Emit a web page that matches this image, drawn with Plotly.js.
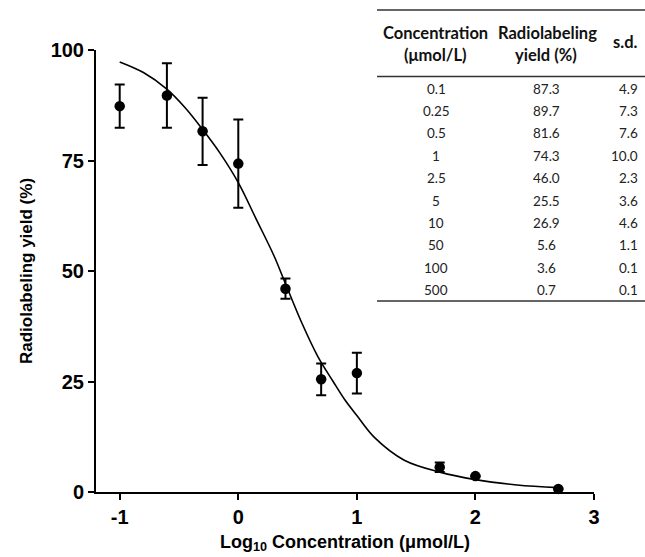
<!DOCTYPE html>
<html><head><meta charset="utf-8">
<script src="https://cdn.plot.ly/plotly-3.0.1.min.js"></script>
<style>html,body{margin:0;padding:0;background:#fff;}#chart{width:645px;height:557px;}</style>
</head><body><div id="chart"></div>
<script>
// Measured data (table in the figure)
const concLabels = ["0.1","0.25","0.5","1","2.5","5","10","50","100","500"];
const concValues = [0.1,0.25,0.5,1,2.5,5,10,50,100,500];
const yieldValues = [87.3,89.7,81.6,74.3,46.0,25.5,26.9,5.6,3.6,0.7];
const sdValues = [4.9,7.3,7.6,10.0,2.3,3.6,4.6,1.1,0.1,0.1];
const yieldLabels = ["87.3","89.7","81.6","74.3","46.0","25.5","26.9","5.6","3.6","0.7"];
const sdLabels = ["4.9","7.3","7.6","10.0","2.3","3.6","4.6","1.1","0.1","0.1"];
// Fitted curve
const fitX = [-1,-0.8,-0.6,-0.45,-0.3,-0.15,0,0.15,0.3,0.4,0.54,0.67,0.8,0.9,1.0,1.15,1.4,1.7,2.0,2.35,2.7];
const fitY = [97.3,94.9,91.1,87.0,82.0,76.5,70.0,61.8,53.5,47.0,38.0,30.7,25.0,20.8,17.3,12.3,7.2,4.5,2.8,1.6,1.0];
const xTicks = [-1,0,1,2,3];
const yTicks = [0,25,50,75,100];
const headerCol1 = ["Concentration","(μmol/L)"];
const headerCol2 = ["Radiolabeling","yield (%)"];
const headerCol3 = "s.d.";

const logX = concValues.map(v => Math.log10(v));

// layout geometry (pixels)
const L = 96, R = 594, T = 50, B = 492;
const W = R - L, H = B - T;
const px = p => (p - L) / W;
const py = p => (B - p) / H;

const tableFont = "Lato, 'Open Sans', sans-serif";
const headFont = {family: tableFont, size: 16.5, color: '#111'};
const annotations = [];
const shapes = [];
function txt(text, xpix, ypix, opts) {
  annotations.push(Object.assign({
    xref: 'paper', yref: 'paper', x: px(xpix), y: py(ypix), text: text,
    showarrow: false, xanchor: 'center', yanchor: 'middle',
    font: {family: tableFont, size: 13.5, color: '#222'}
  }, opts || {}));
}
// header
txt("<b>" + headerCol1[0] + "</b>", 435, 33, {font: headFont});
txt("<b>" + headerCol1[1] + "</b>", 435, 55, {font: headFont});
txt("<b>" + headerCol2[0] + "</b>", 547, 33, {font: headFont});
txt("<b>" + headerCol2[1] + "</b>", 546, 55, {font: headFont});
txt("<b>" + headerCol3 + "</b>", 625, 42, {font: headFont});
const row0 = 88.5, rowStep = 22.4;
concLabels.forEach((c, i) => {
  const y = row0 + i * rowStep;
  txt(c, 436, y);
  txt(yieldLabels[i], 546, y);
  txt(sdLabels[i], 640, y, {xanchor: 'right'});
});
function hline(y, w) {
  shapes.push({type:'line', xref:'paper', yref:'paper', x0: px(377), x1: px(645), y0: py(y), y1: py(y),
    line:{color:'#333', width: w}});
}
hline(10, 1.5); hline(76.5, 1.5); hline(301, 1.5);

const traces = [
  {x: fitX, y: fitY, mode: 'lines', line: {color: '#000', width: 1.6, shape: 'spline'},
   hoverinfo: 'skip', cliponaxis: false},
  {x: logX, y: yieldValues, mode: 'markers', marker: {color: '#000', size: 10.5},
   error_y: {type: 'data', array: sdValues, visible: true, color: '#000', thickness: 2, width: 5},
   cliponaxis: false}
];

const axFont = 'Liberation Sans, Arial, sans-serif';
const layout = {
  width: 645, height: 557,
  margin: {l: L, r: 645 - R, t: T, b: 557 - B},
  showlegend: false,
  paper_bgcolor: '#fff', plot_bgcolor: '#fff',
  xaxis: {
    range: [-1.2, 3], tickvals: xTicks, ticktext: xTicks.map(String),
    showline: true, linecolor: '#000', linewidth: 2, ticks: 'outside', ticklen: 6, tickwidth: 2, tickcolor: '#000',
    showgrid: false, zeroline: false,
    tickfont: {family: axFont, size: 20, color: '#000', weight: 'bold'},
    title: {text: '<b>Log<sub>10</sub> Concentration (μmol/L)</b>', standoff: 8,
      font: {family: axFont, size: 18, color: '#000'}}
  },
  yaxis: {
    range: [0, 100], tickvals: yTicks, ticktext: yTicks.map(String),
    showline: true, linecolor: '#000', linewidth: 2, ticks: 'outside', ticklen: 6, tickwidth: 2, tickcolor: '#000',
    showgrid: false, zeroline: false,
    tickfont: {family: axFont, size: 20, color: '#000', weight: 'bold'},
    title: {text: '<b>Radiolabeling yield (%)</b>', standoff: 14,
      font: {family: axFont, size: 17, color: '#000'}}
  },
  annotations: annotations,
  shapes: shapes
};
Plotly.newPlot('chart', traces, layout, {displayModeBar: false, staticPlot: true});
</script></body></html>
